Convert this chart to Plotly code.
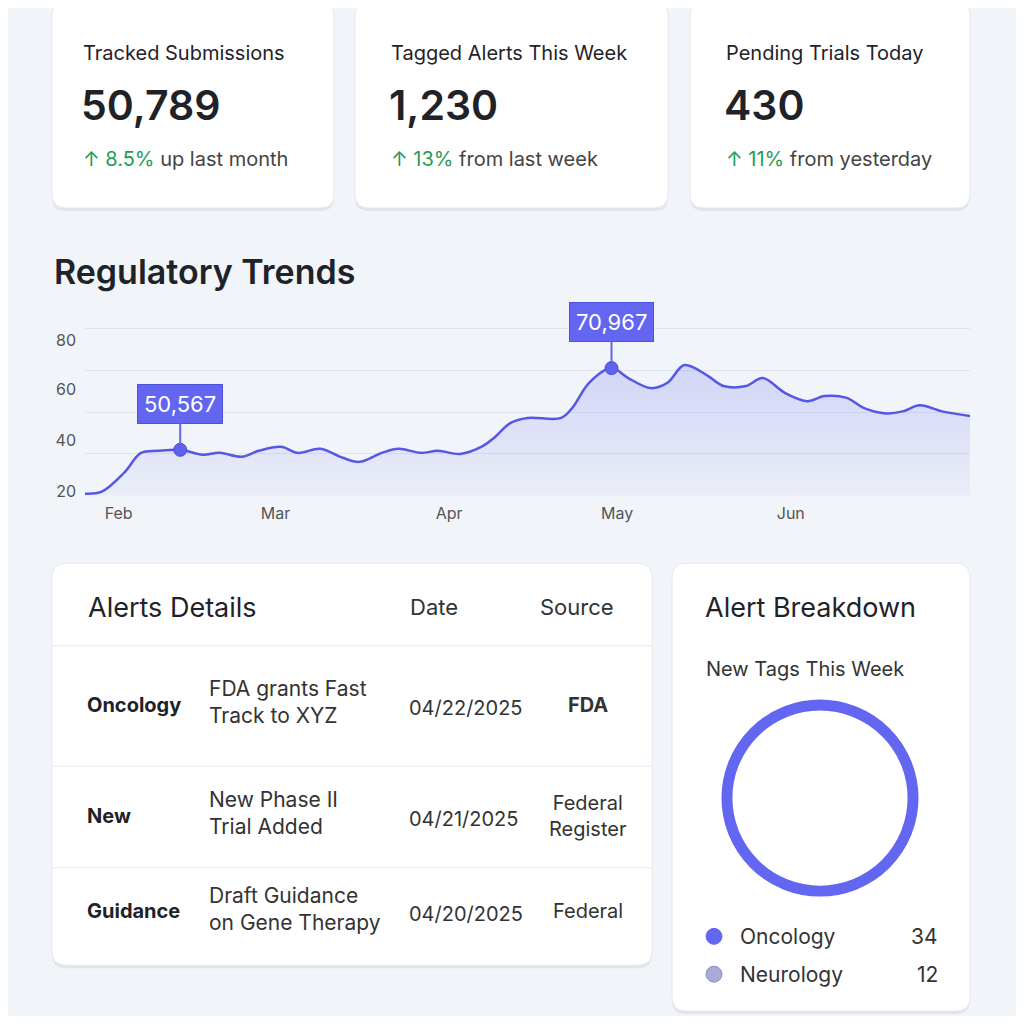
import plotly.graph_objects as go

OFF = 8.0
S = 1008.0
def px(x): return (x - OFF) / S
def py(y): return 1 - (y - OFF) / S

# ---------------- data ----------------
kpi_titles = ["Tracked Submissions", "Tagged Alerts This Week", "Pending Trials Today"]
kpi_values = ["50,789", "1,230", "430"]
kpi_pcts = ["8.5%", "13%", "11%"]
kpi_notes = ["up last month", "from last week", "from yesterday"]

trend_dates = ["2025-01-26", "2025-01-29", "2025-02-02", "2025-02-05", "2025-02-08", "2025-02-12",
               "2025-02-16", "2025-02-19", "2025-02-23", "2025-02-26", "2025-03-02", "2025-03-05",
               "2025-03-09", "2025-03-13", "2025-03-16", "2025-03-20", "2025-03-23", "2025-03-27",
               "2025-03-30", "2025-04-03", "2025-04-07", "2025-04-09", "2025-04-12", "2025-04-15",
               "2025-04-21", "2025-04-23", "2025-04-26", "2025-04-30", "2025-05-03", "2025-05-07",
               "2025-05-10", "2025-05-13", "2025-05-17", "2025-05-20", "2025-05-24", "2025-05-27",
               "2025-05-31", "2025-06-04", "2025-06-07", "2025-06-11", "2025-06-14", "2025-06-18",
               "2025-06-21", "2025-06-24", "2025-06-28", "2025-07-03"]
trend_values = [10.7, 11.7, 21, 30.7, 31.7, 32.2, 29.8, 30.7, 28.8, 31.7, 33.7, 30.7,
                32.7, 28.3, 26.3, 30.7, 32.7, 30.7, 31.7, 30.2, 34, 38, 45.4, 47.8,
                47.8, 52.7, 65, 72.2, 67.3, 62.4, 65, 73.7, 68.8, 63.4, 63.4, 67.3,
                60, 56, 58.5, 57.6, 52.7, 50, 51, 54, 51, 48.8]
callout_dates = ["2025-02-12", "2025-04-30"]
callout_values = [32.2, 72.2]
callout_labels = ["50,567", "70,967"]
month_ticks = ["2025-02-01", "2025-03-01", "2025-04-01", "2025-05-01", "2025-06-01"]
month_labels = ["Feb", "Mar", "Apr", "May", "Jun"]
y_ticks = [12, 37, 62, 86]
y_labels = ["20", "40", "60", "80"]

alert_cats = ["Oncology", "New", "Guidance"]
alert_titles = ["FDA grants Fast<br>Track to XYZ", "New Phase II<br>Trial Added", "Draft Guidance<br>on Gene Therapy"]
alert_dates = ["04/22/2025", "04/21/2025", "04/20/2025"]
alert_sources = ["<b>FDA</b>", "Federal<br>Register", "Federal"]

break_labels = ["Oncology", "Neurology"]
break_values = [34, 12]
break_colors = ["#6366f1", "#a9abd6"]

# ---------------- helpers ----------------
shapes = []
annots = []

def rrect(x0, y0, x1, y1, r=14, fill="white", line="rgba(0,0,0,0)"):
    rx, ry = r / S, r / S
    X0, X1 = px(x0), px(x1)
    Yt, Yb = py(y0), py(y1)
    path = (f"M {X0+rx},{Yt} L {X1-rx},{Yt} Q {X1},{Yt} {X1},{Yt-ry} "
            f"L {X1},{Yb+ry} Q {X1},{Yb} {X1-rx},{Yb} L {X0+rx},{Yb} "
            f"Q {X0},{Yb} {X0},{Yb+ry} L {X0},{Yt-ry} Q {X0},{Yt} {X0+rx},{Yt} Z")
    shapes.append(dict(type="path", path=path, xref="paper", yref="paper",
                       fillcolor=fill, line=dict(color=line, width=1), layer="below"))

def card(x0, y0, x1, y1):
    rrect(x0, y0 + 2, x1, y1 + 3, fill="rgba(150,160,180,0.18)")
    rrect(x0, y0, x1, y1, fill="white", line="#e6e9ef")

def text(x, y, t, size=18, color="#1f2328", xanchor="left", weight=None, align="left"):
    annots.append(dict(x=px(x), y=py(y), xref="paper", yref="paper", text=t, showarrow=False,
                       xanchor=xanchor, yanchor="middle", align=align,
                       font=dict(size=size, color=color, family="Inter", weight=weight)))

# ---------------- KPI cards ----------------
cards = [(52, 334), (355, 668), (690, 970)]
for i, (a, b) in enumerate(cards):
    card(a, 2, b, 209)
    tx = a + 29 if i == 0 else a + 34
    text(tx, 53, kpi_titles[i], 20)
    text(tx - 2, 105, kpi_values[i], 41, weight=600)
    text(tx, 160, f"<span style='color:#1f9d55'>↑ {kpi_pcts[i]}</span> {kpi_notes[i]}", 20, color="#444")

text(52, 273, "Regulatory Trends", 34, weight=600)

# ---------------- table card ----------------
card(52, 566, 652, 970)
text(86, 610, "Alerts Details", 27)
text(434, 610, "Date", 22, color="#333", xanchor="center")
text(577, 610, "Source", 22, color="#333", xanchor="center")
for yy in [649, 770, 872]:
    shapes.append(dict(type="line", xref="paper", yref="paper", x0=px(52), x1=px(652),
                       y0=py(yy), y1=py(yy), line=dict(color="#e6e9ef", width=1)))
row_y = [708, 820, 916]
for i in range(3):
    text(85, row_y[i], f"<b>{alert_cats[i]}</b>", 20)
    text(207, row_y[i] - 3, alert_titles[i], 21, color="#333")
    text(407, row_y[i] + 3, alert_dates[i], 20, color="#333")
    text(588, row_y[i], alert_sources[i], 20, color="#333", xanchor="center", align="center")

# ---------------- breakdown card ----------------
card(672, 566, 970, 1016)
text(703, 610, "Alert Breakdown", 27)
text(704, 672, "New Tags This Week", 20, color="#333")
for i, (lab, val) in enumerate(zip(break_labels, break_values)):
    yy = 941 + 38 * i
    shapes.append(dict(type="circle", xref="paper", yref="paper", x0=px(706), x1=px(722),
                       y0=py(yy - 8), y1=py(yy + 8), fillcolor=break_colors[i],
                       line=dict(color="#8c8fc0" if i else break_colors[i], width=1)))
    text(738, yy, lab, 21, color="#333")
    text(940, yy, str(val), 21, color="#333", xanchor="right")

fig = go.Figure()
fig.add_trace(go.Scatter(x=trend_dates, y=trend_values, mode="lines",
                         line=dict(color="#5558e3", width=2.5, shape="spline"),
                         fill="tozeroy",
                         fillgradient=dict(type="vertical",
                                           colorscale=[[0, "rgba(99,102,241,0.02)"], [1, "rgba(99,102,241,0.22)"]]),
                         hoverinfo="skip"))
fig.add_trace(go.Scatter(x=callout_dates, y=callout_values, mode="markers",
                         marker=dict(color="#5f62ea", size=13, line=dict(color="#4a4dd6", width=1)),
                         hoverinfo="skip"))
for d, v, lab in zip(callout_dates, callout_values, callout_labels):
    annots.append(dict(x=d, y=v, xref="x", yref="y", text=lab, showarrow=True, arrowhead=0,
                       arrowwidth=2, arrowcolor="#6366f1", ax=0, ay=-40, yshift=6,
                       bgcolor="#6366f1", bordercolor="#4f52dc", borderpad=6,
                       font=dict(size=22, color="white", family="Inter")))

fig.add_trace(go.Pie(labels=break_labels[:1], values=break_values[:1], hole=0.87,
                     marker=dict(colors=break_colors[:1], line=dict(color="white", width=2)),
                     textinfo="none", sort=False, direction="clockwise", rotation=0,
                     domain=dict(x=[px(720), px(920)], y=[py(902), py(702)]),
                     hoverinfo="skip", showlegend=False))

fig.update_layout(
    width=1008, height=1008, margin=dict(l=0, r=0, t=0, b=0),
    paper_bgcolor="#f1f4f8", plot_bgcolor="rgba(0,0,0,0)", showlegend=False,
    shapes=shapes, annotations=annots,
    xaxis=dict(domain=[px(85), px(970)], type="date", range=["2025-01-26", "2025-07-03"],
               tickvals=month_ticks, ticktext=month_labels, showgrid=False, zeroline=False,
               showline=False, tickfont=dict(size=16, color="#555", family="Inter"), ticks="",
               ticklabelstandoff=6),
    yaxis=dict(domain=[py(498), py(328)], range=[9.8, 92.6], tickvals=y_ticks, ticktext=y_labels,
               showgrid=False, zeroline=False, tickfont=dict(size=16, color="#555", family="Inter"),
               ticks="", ticklabelstandoff=8,
               minor=dict(tickvals=[9.9, 30.2, 50.7, 71.2, 91.7], showgrid=True,
                          gridcolor="#dfe3f0", gridwidth=1)),
)
fig.write_html("out.html")
